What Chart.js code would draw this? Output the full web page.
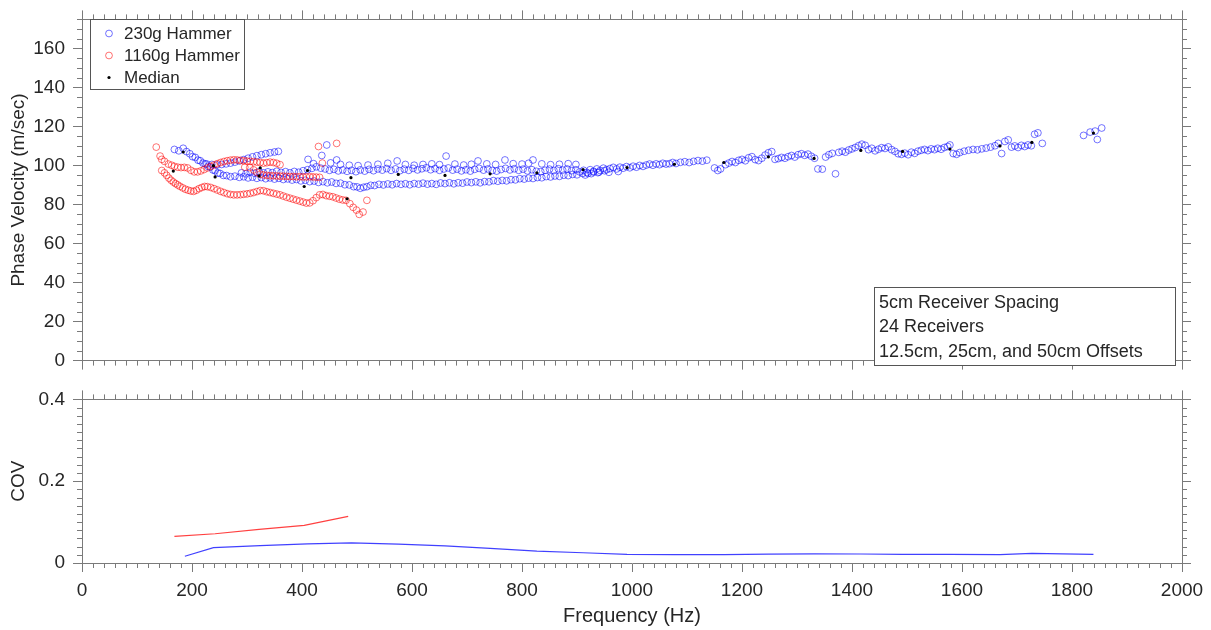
<!DOCTYPE html>
<html><head><meta charset="utf-8">
<script src="https://cdn.jsdelivr.net/npm/chart.js@4.4.1/dist/chart.umd.min.js"></script>
<style>
html,body{margin:0;padding:0;background:#fff;width:1211px;height:630px;overflow:hidden}
#c1{position:absolute;left:0;top:0}
#c2{position:absolute;left:0;top:380px}
</style></head><body>
<canvas id="c1" width="1211" height="380"></canvas>
<canvas id="c2" width="1211" height="250"></canvas>
<script>
// ---------------- DATA ----------------
const blueHz = [
 168,176,184,190,196,201,206,211,215,220,224,229,233,238,242,247,251,257,263,270,278,286,294,302,310,318,326,334,342,350,358,366,374,382,390,398,406,414,422,430,438,446,454,462,470,478,486,494,500,506,512,518,525,532,540,548,556,564,572,580,588,596,604,612,620,628,636,644,652,660,668,676,684,692,700,708,716,724,732,740,748,756,764,772,780,788,796,804,812,820,828,836,844,852,860,868,876,884,892,900,910,920,930,940,950,
 227,236,245,254,262,270,278,286,294,302,310,318,326,334,342,350,357,
 290,298,306,314,322,330,338,346,354,362,370,378,386,394,402,410,418,426,434,442,450,458,466,474,482,490,498,506,514,522,530,538,546,554,562,570,578,586,594,602,610,618,626,634,642,650,658,666,674,682,690,698,706,714,722,730,738,746,754,762,770,778,786,794,802,810,818,826,834,842,850,858,866,874,882,890,898,
 411,421,436,445,463,452,470,486,502,520,538,556,573,588,604,620,636,650,662,678,694,708,720,736,752,769,784,800,812,820,836,852,868,884,898,
 905,912,918,924,930,936,942,948,954,960,966,972,978,984,990,996,1002,1008,1014,1020,1026,1032,1038,1044,1050,1056,1062,1068,1074,1080,1088,1096,1104,1112,1120,1128,1136,1150,1156,1161,1170,1176,1182,1188,1194,1200,1206,1212,1218,1224,1230,1236,1242,1248,1254,1260,1266,1272,1278,1284,1290,1296,1302,1308,1314,1320,1326,1332,1338,1346,1352,1358,1364,1370,1376,1382,1388,1394,1400,1406,1412,1418,1424,1430,1436,1442,1448,1454,1460,1466,1472,1478,1484,1490,1496,1502,1508,1514,1520,1526,1532,1538,1544,1550,1556,1562,1568,1574,1578,1584,1590,1596,1604,1612,1620,1628,1636,1644,1652,1660,1666,1672,1678,1684,1690,1696,1702,1708,1714,1720,1726,1732,1738,1746,1821,1833,1842,1846,1854,
 915,926,938,958,975
];
const blueVel = [
 108.3,107.6,108.9,107.2,106.1,104.6,104.2,102.8,102.5,101.3,100.9,99.6,99.2,97.8,97.4,96.2,96.0,95.0,94.9,94.3,
 94.6,94.0,94.3,93.7,94.1,93.5,93.9,93.3,93.7,93.1,93.5,92.9,93.2,92.6,92.9,92.2,92.5,91.8,92.1,91.4,
 91.8,91.2,91.6,90.9,91.0,90.2,90.1,89.2,89.1,88.4,88.9,89.2,89.9,89.8,90.4,90.1,90.6,90.2,90.8,90.4,
 90.7,90.2,90.8,90.5,91.0,90.5,90.8,90.4,91.1,90.8,91.2,90.7,91.2,91.0,91.6,91.3,91.7,91.2,91.8,91.7,
 92.3,92.0,92.4,92.2,92.8,92.7,93.3,93.1,93.6,93.4,93.9,93.8,94.4,94.2,94.7,94.5,95.1,94.9,95.5,95.3,
 96.0,96.0,96.7,96.7,97.4,
 100.8,100.6,100.4,100.6,100.9,101.3,101.8,102.4,103.1,103.8,104.5,105.1,105.6,106.1,106.6,107.0,107.3,
 96.3,95.8,96.6,96.1,96.9,96.3,96.8,96.4,97.1,96.5,96.9,96.3,97.0,96.6,97.4,97.9,98.6,99.4,98.7,98.3,
 97.6,98.1,97.3,97.8,97.1,97.6,96.9,97.8,97.2,98.1,97.4,98.3,97.7,98.5,97.6,98.3,97.4,98.2,97.6,98.6,
 97.8,98.4,98.9,97.9,98.5,97.6,98.3,98.8,97.7,98.2,97.3,97.9,97.2,98.1,98.6,97.7,98.3,97.5,97.2,98.0,
 98.6,97.8,98.4,97.6,98.2,97.3,97.9,97.1,96.9,97.6,98.2,97.5,98.4,97.7,98.3,97.4,97.9,
 103.2,101.0,105.2,110.6,102.9,101.4,100.6,100.2,100.0,100.3,100.7,101.2,102.4,100.6,100.2,100.6,100.9,100.5,104.9,100.8,100.3,100.7,102.4,100.9,100.6,102.9,101.0,100.8,101.2,102.9,100.9,100.5,100.7,101.0,100.6,
 96.8,97.6,96.5,97.9,97.1,98.3,97.5,98.7,97.9,98.5,99.1,98.3,99.2,98.7,99.5,98.9,99.7,99.2,100.1,99.6,100.3,100.8,100.2,100.9,100.5,101.2,100.8,101.0,101.6,101.1,101.7,102.0,101.6,102.2,102.6,102.3,102.8,98.8,97.5,98.3,100.5,101.3,102.1,101.6,102.7,103.2,102.5,104.0,104.6,103.1,102.6,103.8,105.4,106.6,107.2,103.2,103.6,104.2,103.8,104.6,105.2,104.4,105.6,106.1,105.3,105.9,104.8,103.8,98.3,98.2,104.4,105.6,106.3,95.8,106.8,107.4,106.9,108.0,108.6,109.3,110.2,111.0,110.4,108.2,108.9,107.6,108.4,109.2,108.8,109.6,108.2,107.3,106.1,105.8,106.4,105.6,106.9,106.3,107.4,107.9,108.3,107.7,108.6,108.2,108.9,108.4,109.3,109.8,110.6,106.2,105.8,106.7,107.4,107.9,108.3,108.1,108.6,109.0,109.5,110.2,111.4,106.2,112.4,113.2,109.5,110.1,109.3,110.4,109.8,110.6,110.2,116.1,116.8,111.4,115.5,117.2,117.7,113.4,119.3,
 95.2,95.9,96.4,96.6,97.0
];
const redHz = [
 145,150,154,158,162,166,170,174,178,183,188,193,198,203,208,213,218,223,228,234,240,246,252,258,264,270,276,282,288,294,300,306,312,318,324,330,336,342,348,354,360,366,372,378,384,390,396,402,408,414,420,426,432,438,444,450,456,462,468,474,480,487,493,499,504,511,518,
 135,142,145,150,157,163,168,174,180,186,192,198,204,210,216,222,228,234,240,246,252,258,264,270,276,282,288,294,300,306,312,318,324,330,336,342,348,354,360,
 296,305,312,318,324,330,336,342,348,354,360,366,372,378,384,390,396,402,408,414,420,426,432,
 430,463,437
];
const redVel = [
 97.5,96.3,95.0,93.6,92.5,91.6,90.8,90.1,89.4,88.6,87.9,87.4,87.0,86.8,87.4,88.2,88.8,89.3,89.2,88.8,88.2,87.5,86.8,86.2,85.6,85.2,85.0,85.0,85.1,85.3,85.5,85.8,86.2,86.7,87.2,87.1,86.6,86.2,85.8,85.4,85.0,84.4,83.8,83.3,82.8,82.3,81.8,81.3,80.8,80.9,82.0,83.6,85.0,85.2,84.6,84.3,84.0,83.4,82.8,82.4,82.2,80.5,78.6,77.2,75.0,76.2,82.2,
 109.5,104.9,103.2,102.2,100.8,100.2,99.6,99.2,99.0,99.1,98.8,97.6,96.8,96.8,97.3,98.0,98.8,99.6,100.3,101.0,101.6,102.1,102.5,102.8,103.0,102.9,102.7,102.5,102.3,102.2,102.0,101.8,101.6,101.3,101.5,101.8,101.6,101.2,100.5,
 99.2,99.0,97.8,96.5,95.6,95.2,95.0,94.8,94.8,94.7,94.6,94.6,94.5,94.4,94.4,94.3,94.3,94.2,94.2,94.3,94.2,94.1,94.0,
 109.8,111.4,101.3
];
const medHz  = [166,184,239,242,322,324,404,410,482,489,575,660,742,827,911,991,1077,1167,1248,1331,1416,1492,1578,1669,1727,1839];
const medVel = [97.2,107.0,100.0,94.2,94.7,98.8,89.3,97.5,83.0,93.8,95.5,95.0,95.8,96.3,98.0,99.0,100.7,101.6,104.5,103.7,107.8,107.3,108.5,110.1,111.9,116.7];

const covBlueHz = [187,239,324,410,490,575,660,742,827,911,991,1077,1167,1248,1331,1416,1492,1578,1669,1727,1839];
const covBlue   = [0.0165,0.0375,0.0425,0.047,0.049,0.046,0.042,0.036,0.029,0.025,0.021,0.0205,0.0205,0.0215,0.0225,0.022,0.021,0.021,0.0205,0.0235,0.021];
const covRedHz  = [168,242,322,404,484];
const covRed    = [0.065,0.0715,0.082,0.092,0.114];

const seriesNames = ['230g Hammer','1160g Hammer','Median'];
const noteLines = ['5cm Receiver Spacing','24 Receivers','12.5cm, 25cm, and 50cm Offsets'];

// ---------------- STYLE ----------------
const AXIS = '#7a7a7a', TXT = '#262626';
const FONT = "'Liberation Sans', Arial, Helvetica, sans-serif";
const BLUE = 'rgba(0,0,255,0.55)', RED = 'rgba(255,0,0,0.55)';
const pts = (xs, ys) => xs.map((x, i) => ({x, y: ys[i]}));

function xScale(pos, size, showLabels, title) {
  return {
    type: 'linear', position: pos, min: 0, max: 2000,
    afterFit: s => { s.height = size; },
    border: {display: true, color: AXIS, width: 1},
    grid: {drawOnChartArea: false, drawTicks: true, tickLength: 9, color: AXIS, lineWidth: 1},
    ticks: {display: showLabels, stepSize: 200, color: TXT, font: {family: FONT, size: 19}, padding: 7, maxRotation: 0, autoSkip: false,
            callback: v => String(v)},
    title: title ? {display: true, text: title, color: TXT, font: {family: FONT, size: 20}, padding: {top: 0, bottom: 2}} : {display: false}
  };
}
function yScale(pos, size, min, max, step, showLabels, title) {
  return {
    type: 'linear', position: pos, min, max,
    afterFit: s => { s.width = size; },
    afterBuildTicks: s => { s.ticks = s.ticks.filter(t => Math.abs(t.value / step - Math.round(t.value / step)) < 1e-6); },
    border: {display: true, color: AXIS, width: 1},
    grid: {drawOnChartArea: false, drawTicks: true, tickLength: 9, color: AXIS, lineWidth: 1},
    ticks: {display: showLabels, stepSize: step, color: TXT, font: {family: FONT, size: 19}, padding: 8, callback: v => String(v)},
    title: title ? {display: true, text: title, color: TXT, font: {family: FONT, size: 19}, padding: {top: 7, bottom: 0}} : {display: false}
  };
}

const minorTicks = {
  id: 'minorTicks',
  afterDraw(chart, args, o) {
    const {ctx, chartArea: a, scales} = chart;
    const xs = scales.x, ys = scales.y;
    ctx.save(); ctx.strokeStyle = AXIS; ctx.lineWidth = 1; ctx.beginPath();
    for (let i = 0; i <= o.xN; i++) {
      if (i % o.xEvery === 0) continue;
      const p = Math.round(xs.getPixelForValue(i * o.xStep)) + 0.5;
      ctx.moveTo(p, a.top); ctx.lineTo(p, a.top - o.len);
      ctx.moveTo(p, a.bottom); ctx.lineTo(p, a.bottom + o.len);
    }
    for (let i = 0; i <= o.yN; i++) {
      if (i % o.yEvery === 0) continue;
      const p = Math.round(ys.getPixelForValue(i * o.yStep)) + 0.5;
      ctx.moveTo(a.left, p); ctx.lineTo(a.left - o.len, p);
      ctx.moveTo(a.right, p); ctx.lineTo(a.right + o.len, p);
    }
    ctx.stroke(); ctx.restore();
  }
};

const legendBox = {
  id: 'legendBox',
  afterDraw(chart, args, o) {
    const ctx = chart.ctx;
    ctx.save();
    ctx.fillStyle = '#fff'; ctx.fillRect(o.x, o.y, o.w, o.h);
    ctx.strokeStyle = '#555'; ctx.lineWidth = 1; ctx.strokeRect(o.x + 0.5, o.y + 0.5, o.w, o.h);
    ctx.font = o.size + 'px ' + FONT; ctx.textBaseline = 'middle'; ctx.textAlign = 'left';
    chart.data.datasets.forEach((ds, i) => {
      const cy = o.y + o.first + i * o.gap;
      ctx.beginPath();
      ctx.arc(o.mx, cy, ds.pointRadius, 0, Math.PI * 2);
      if (ds.pointBorderWidth > 0) { ctx.strokeStyle = ds.borderColor; ctx.lineWidth = ds.pointBorderWidth; ctx.stroke(); }
      else { ctx.fillStyle = ds.backgroundColor; ctx.fill(); }
      ctx.fillStyle = TXT; ctx.fillText(ds.label, o.tx, cy + 1);
    });
    ctx.restore();
  }
};

const noteBox = {
  id: 'noteBox',
  afterDraw(chart, args, o) {
    const ctx = chart.ctx;
    ctx.save();
    ctx.fillStyle = '#fff'; ctx.fillRect(o.x, o.y, o.w, o.h);
    ctx.strokeStyle = '#555'; ctx.lineWidth = 1; ctx.strokeRect(o.x + 0.5, o.y + 0.5, o.w, o.h);
    ctx.font = o.size + 'px ' + FONT; ctx.textBaseline = 'middle'; ctx.textAlign = 'left'; ctx.fillStyle = TXT;
    o.lines.forEach((t, i) => ctx.fillText(t, o.tx, o.y + o.first + i * o.gap));
    ctx.restore();
  }
};

// ---------------- TOP CHART ----------------
new Chart(document.getElementById('c1'), {
  type: 'scatter',
  data: {datasets: [
    {label: seriesNames[0], data: pts(blueHz, blueVel), order: 3, showLine: false,
     pointStyle: 'circle', pointRadius: 3.4, pointBorderWidth: 1, borderColor: BLUE, backgroundColor: 'rgba(0,0,0,0)',
     pointBorderColor: BLUE, pointBackgroundColor: 'rgba(0,0,0,0)'},
    {label: seriesNames[1], data: pts(redHz, redVel), order: 2, showLine: false,
     pointStyle: 'circle', pointRadius: 3.4, pointBorderWidth: 1, borderColor: RED, backgroundColor: 'rgba(0,0,0,0)',
     pointBorderColor: RED, pointBackgroundColor: 'rgba(0,0,0,0)'},
    {label: seriesNames[2], data: pts(medHz, medVel), order: 1, showLine: false,
     pointStyle: 'circle', pointRadius: 1.6, pointBorderWidth: 0, borderColor: '#000', backgroundColor: '#000',
     pointBackgroundColor: '#000'}
  ]},
  options: {
    responsive: false, animation: false, devicePixelRatio: 1,
    layout: {padding: 0, autoPadding: false},
    scales: {
      x: xScale('bottom', 12, false, null),
      x2: xScale('top', 11, false, null),
      y: yScale('left', 82, 0, 175, 20, true, 'Phase Velocity (m/sec)'),
      y2: yScale('right', 29, 0, 175, 20, false, null)
    },
    plugins: {
      legend: {display: false}, tooltip: {enabled: false},
      minorTicks: {xN: 100, xStep: 20, xEvery: 10, yN: 35, yStep: 5, yEvery: 4, len: 5},
      legendBox: {x: 90, y: 19, w: 154, h: 70, mx: 109, tx: 124, first: 14.5, gap: 22, size: 17},
      noteBox: {x: 874, y: 287, w: 301, h: 78, tx: 879, first: 16, gap: 24.3, size: 18, lines: noteLines}
    }
  },
  plugins: [minorTicks, legendBox, noteBox]
});

// ---------------- BOTTOM CHART ----------------
new Chart(document.getElementById('c2'), {
  type: 'line',
  data: {datasets: [
    {label: seriesNames[0], data: pts(covBlueHz, covBlue), borderColor: 'rgba(0,0,255,0.75)', borderWidth: 1.2, pointRadius: 0, tension: 0, fill: false},
    {label: seriesNames[1], data: pts(covRedHz, covRed), borderColor: 'rgba(255,0,0,0.75)', borderWidth: 1.2, pointRadius: 0, tension: 0, fill: false}
  ]},
  options: {
    responsive: false, animation: false, devicePixelRatio: 1,
    layout: {padding: 0, autoPadding: false},
    scales: {
      x: xScale('bottom', 67, true, 'Frequency (Hz)'),
      x2: xScale('top', 12, false, null),
      y: yScale('left', 82, 0, 0.4, 0.2, true, 'COV'),
      y2: yScale('right', 29, 0, 0.4, 0.2, false, null)
    },
    plugins: {
      legend: {display: false}, tooltip: {enabled: false},
      minorTicks: {xN: 100, xStep: 20, xEvery: 10, yN: 20, yStep: 0.02, yEvery: 10, len: 5}
    }
  },
  plugins: [minorTicks]
});
</script></body></html>
